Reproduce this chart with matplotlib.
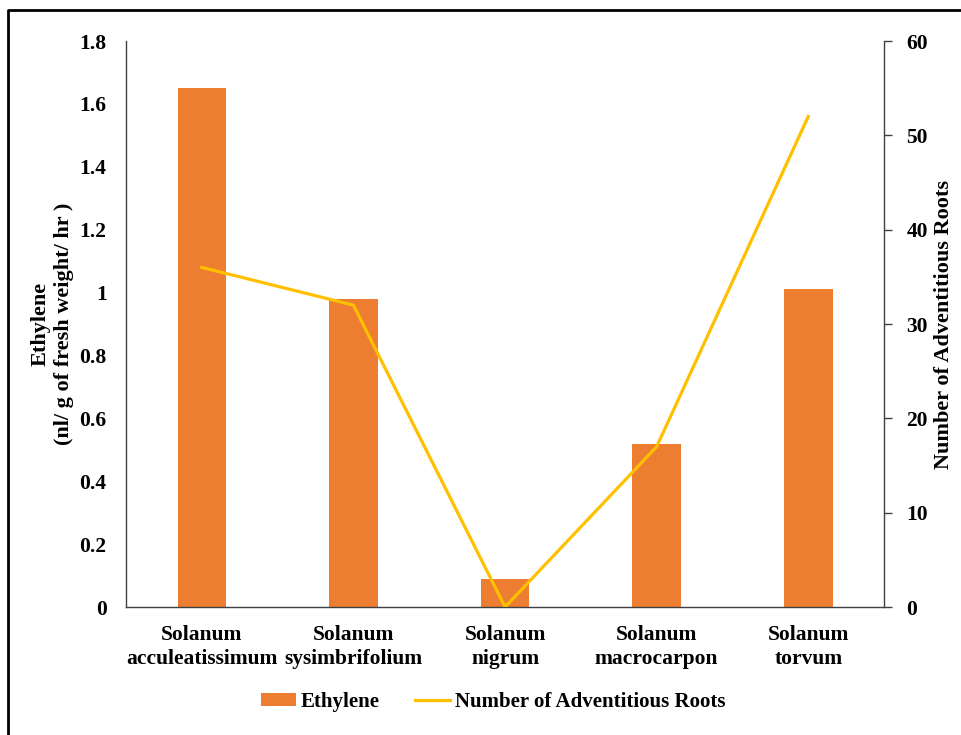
import matplotlib.pyplot as plt
from matplotlib.lines import Line2D
import numpy as np

plt.rcParams['font.family'] = ['Liberation Serif', 'DejaVu Serif']
plt.rcParams['font.weight'] = 'bold'

species = ['Solanum\nacculeatissimum', 'Solanum\nsysimbrifolium', 'Solanum\nnigrum',
           'Solanum\nmacrocarpon', 'Solanum\ntorvum']
ethylene = [1.65, 0.98, 0.09, 0.52, 1.01]
roots = [36, 32, 0, 17, 52]
left_ticks = [0, 0.2, 0.4, 0.6, 0.8, 1, 1.2, 1.4, 1.6, 1.8]
left_labels = ['0', '0.2', '0.4', '0.6', '0.8', '1', '1.2', '1.4', '1.6', '1.8']
right_ticks = [0, 10, 20, 30, 40, 50, 60]

bar_color = '#ED7D31'
line_color = '#FFC000'
spine_color = '#404040'

fig = plt.figure(figsize=(9.62, 7.35), dpi=100)
ax = fig.add_axes([0.131, 0.1741, 0.788, 0.7701])
ax2 = ax.twinx()

x = np.arange(len(species))
b = ax.bar(x, ethylene, width=0.32, color=bar_color, label='Ethylene', zorder=2)
l, = ax2.plot(x, roots, color=line_color, lw=2.3, label='Number of Adventitious Roots',
              solid_joinstyle='miter', zorder=3)

ax.set_xlim(-0.5, 4.5)
ax.set_ylim(0, 1.8)
ax2.set_ylim(0, 60)
ax.set_xticks(x)
ax.set_xticklabels(species, fontsize=15.5, fontweight='bold', linespacing=1.25)
ax.set_yticks(left_ticks)
ax.set_yticklabels(left_labels, fontsize=15.5, fontweight='bold')
ax2.set_yticks(right_ticks)
ax2.set_yticklabels([str(t) for t in right_ticks], fontsize=15.5, fontweight='bold')

ax.tick_params(axis='x', length=0, pad=13)
ax.tick_params(axis='y', length=0, pad=14)
ax2.tick_params(axis='y', length=6, width=1, color=spine_color, pad=10)

for a in (ax, ax2):
    a.spines['top'].set_visible(False)
    for s in ('left', 'right', 'bottom'):
        a.spines[s].set_color(spine_color)
        a.spines[s].set_linewidth(1.0)
ax.spines['right'].set_visible(False)
ax2.spines['left'].set_visible(False)
ax2.spines['bottom'].set_visible(False)
ax.set_zorder(ax2.get_zorder() - 1)
ax2.patch.set_visible(False)

ax.set_ylabel('Ethylene\n(nl/ g of fresh weight/ hr )', fontsize=16, fontweight='bold',
              linespacing=1.2)
ax2.set_ylabel('Number of Adventitious Roots', fontsize=16, fontweight='bold')
ax.yaxis.label.set_va('center')
ax2.yaxis.label.set_va('center')
ax.yaxis.set_label_coords((52 - 126) / 758, 0.5)
ax2.yaxis.set_label_coords((944 - 126) / 758, 0.5)

fig.legend([b, l], ['Ethylene', 'Number of Adventitious Roots'], loc='center',
           bbox_to_anchor=(0.513, 0.045), ncol=2, frameon=False,
           prop={'family': 'Liberation Serif', 'weight': 'bold', 'size': 15},
           handlelength=1.65, handleheight=0.55, handletextpad=0.25, columnspacing=1.7)

# figure frame (left and top edges visible)
fig.add_artist(Line2D([8 / 962, 8 / 962, 1.0], [0.0, 1 - 10 / 735, 1 - 10 / 735],
                      transform=fig.transFigure, color='black', lw=2))

fig.savefig('out.png', dpi=100, facecolor='white')
